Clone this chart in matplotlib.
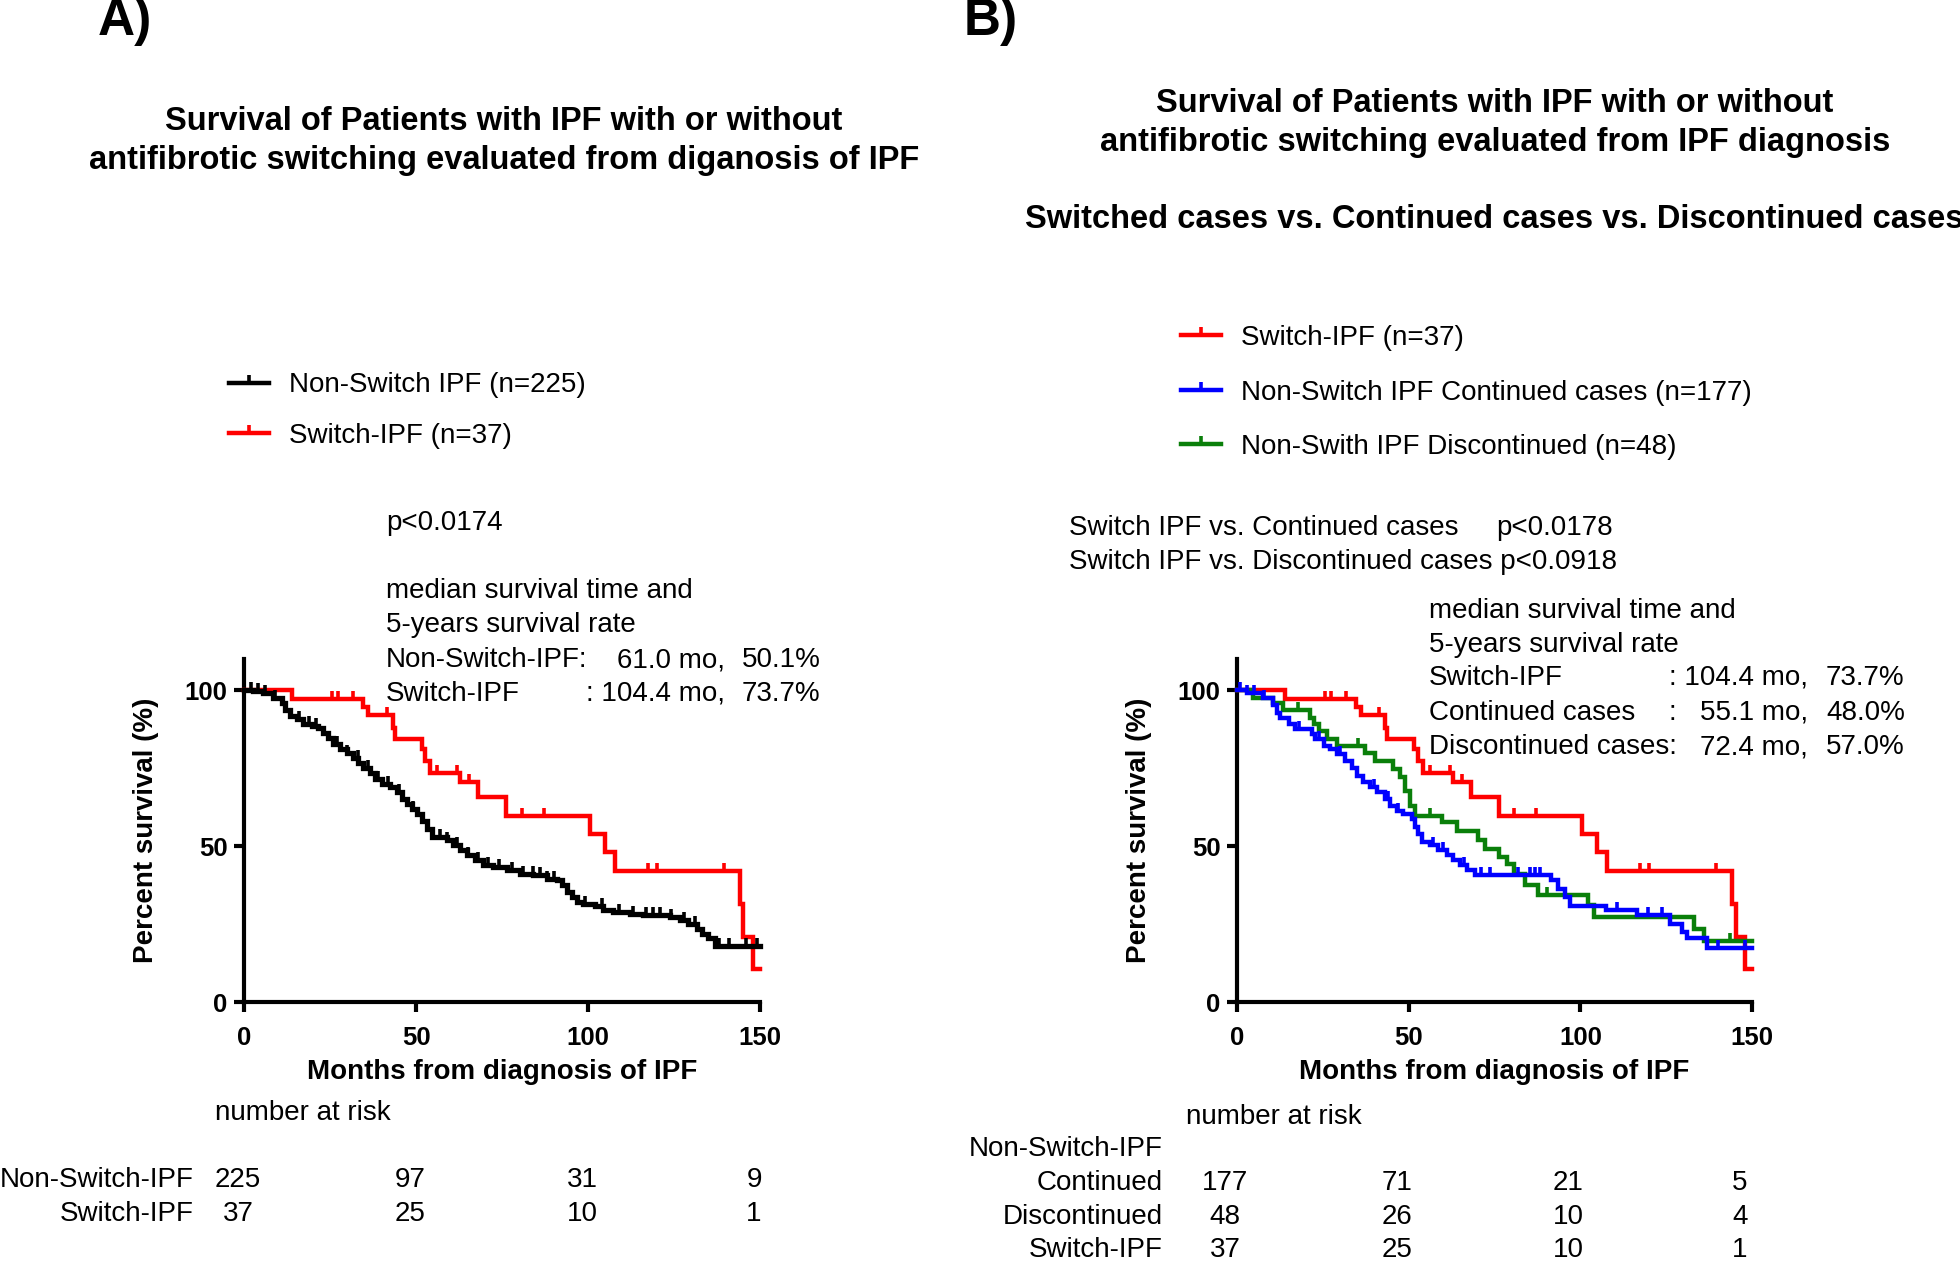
import numpy as np
import matplotlib
matplotlib.use("Agg")
import matplotlib.pyplot as plt
import matplotlib.transforms as mtransforms
from matplotlib.lines import Line2D

plt.rcParams['font.family'] = ['Liberation Sans', 'DejaVu Sans']

# ---- data (months, percent survival) ----
switch_t = [0, 13.9, 34.7, 36.1, 43.2, 43.8, 51.6, 52.6, 54.1, 62.8, 68.1, 76.3,
            100.6, 104.9, 107.8, 144.2, 145.2, 148.1, 150]
switch_s = [100, 97.3, 94.6, 91.9, 88.0, 84.2, 81.0, 77.3, 73.6, 70.4, 65.6, 59.8,
            53.9, 48.0, 42.0, 31.5, 21.0, 10.5, 10.5]
switch_cens = [25.5, 27.4, 31.8, 41.5, 56.1, 61.9, 65.4, 80.7, 87.2, 117.5, 120.0, 139.4]

nonswitch_t = [0, 2.7, 5.6, 8.5, 11.0, 11.9, 13.4, 15.3, 17.2, 19.7, 21.6, 23.1, 24.5,
               26.0, 27.9, 29.9, 31.8, 33.2, 34.7, 36.6, 38.1, 40.0, 42.4, 44.4, 45.8,
               47.3, 48.8, 50.2, 51.7, 53.1, 54.6, 58.9, 60.8, 62.8, 64.7, 67.2, 69.6,
               72.5, 76.4, 80.2, 84.1, 88.0, 90.9, 92.4, 93.8, 95.3, 96.7, 98.6, 102.0,
               104.5, 107.4, 112.2, 116.1, 123.8, 126.7, 129.2, 131.6, 133.0, 135.0,
               136.9, 150]
nonswitch_s = [100, 99.6, 99.1, 97.5, 95.9, 93.8, 91.7, 90.6, 89.2, 88.5, 87.9, 86.4, 84.8,
               82.6, 81.1, 80.0, 78.4, 76.8, 75.2, 73.6, 71.5, 69.9, 68.8, 67.2, 65.1,
               63.5, 61.9, 60.3, 58.1, 55.5, 52.8, 51.8, 50.2, 48.6, 47.0, 45.4, 43.8,
               43.2, 42.2, 40.9, 40.6, 39.5, 39.0, 37.4, 35.2, 33.6, 32.0, 31.5, 30.7,
               29.6, 28.9, 28.3, 27.8, 27.3, 26.2, 25.1, 23.5, 21.9, 20.4,
               17.9, 17.9]
nonswitch_cens = [2, 4, 6, 9, 16, 19, 21, 27, 30, 33, 36, 39, 42, 45, 49, 55, 57, 59, 62,
                  65, 68, 71, 74, 78, 81, 84, 86, 88, 90, 99, 104, 109, 113, 117, 119,
                  121, 124, 128, 131, 138, 141, 146, 149]

cont_t = [0, 3.0, 7.6, 10.6, 11.6, 12.5, 15.0, 16.9, 21.8, 22.7, 25.2, 27.1, 29.0, 31.5,
          33.4, 34.9, 36.8, 38.7, 40.7, 43.1, 44.5, 46.5, 48.4, 50.9, 51.8, 52.8, 53.8,
          56.2, 58.6, 61.1, 63.0, 65.0, 66.9, 69.3, 91.6, 93.6, 95.5, 97.0, 107.6, 116.4,
          126.1, 129.5, 131.0, 136.8, 150]
cont_s = [100, 99.0, 97.5, 95.4, 92.8, 91.2, 89.0, 87.4, 85.8, 84.2, 82.1, 81.0, 79.5, 77.3,
          75.2, 72.5, 70.4, 68.8, 67.2, 65.1, 62.9, 61.3, 60.3, 58.7, 56.0, 53.9, 51.2,
          50.2, 48.6, 47.0, 45.4, 43.8, 42.2, 40.6, 39.0, 36.3, 33.6, 30.7, 29.4, 27.8,
          25.1, 22.5, 20.4, 17.4, 17.4]
cont_cens = [1, 3, 5, 8, 15, 18, 24, 30, 40, 44, 47, 57, 60, 66, 71, 73.7, 81.9, 85.3,
             86.8, 88.2, 110.6, 119.8, 123.7, 140, 148]

disc_t = [0, 4.7, 10.6, 13.5, 21.3, 22.5, 24.0, 26.1, 29.0, 37.3, 40.2, 45.5, 47.5, 48.9,
          50.4, 51.8, 59.6, 64.0, 70.3, 72.2, 76.2, 78.6, 80.6, 83.9, 87.8, 102.2, 103.9,
          133.0, 135.9, 150]
disc_s = [100, 97.5, 95.9, 93.5, 91.2, 89.2, 86.9, 84.2, 82.1, 80.0, 77.3, 74.7, 72.0, 67.7,
          62.9, 59.7, 57.6, 55.0, 52.0, 49.1, 46.4, 44.3, 41.1, 37.4, 34.2, 31.0, 27.3,
          23.5, 19.6, 19.6]
disc_cens = [17.9, 35.3, 56.2, 90.2, 143.7]

risk_months = [0, 50, 100, 150]
risk_a_labels = ['Non-Switch-IPF', 'Switch-IPF']
risk_a = [[225, 97, 31, 9], [37, 25, 10, 1]]
risk_b_labels = ['Continued', 'Discontinued', 'Switch-IPF']
risk_b = [[177, 71, 21, 5], [48, 26, 10, 4], [37, 25, 10, 1]]

RED, BLUE, GREEN, BLACK = '#ff0000', '#0000ff', '#0a7f0a', '#000000'

W, H = 1960, 1266
fig = plt.figure(figsize=(W / 100, H / 100), dpi=100)


def fx(x):
    return x / W


def fy(y):
    return 1 - y / H


def ft(y):
    # text rows sit a touch lower than their measured centres
    return 1 - (y + 3) / H


def km(ax, t, s, cens, color, lw=3.2):
    ax.plot(t, s, drawstyle='steps-post', color=color, lw=lw, clip_on=False,
            solid_joinstyle='miter', zorder=3)
    t = np.asarray(t)
    s = np.asarray(s)
    idx = np.searchsorted(t, cens, side='right') - 1
    ax.plot(cens, s[idx], linestyle='none', marker=2, ms=6, mew=2.6,
            color=color, clip_on=False, zorder=3)


def style_axes(ax):
    ax.set_xlim(0, 150)
    ax.set_ylim(0, 110)
    ax.set_xticks([0, 50, 100, 150])
    ax.set_yticks([0, 50, 100])
    for side in ['top', 'right']:
        ax.spines[side].set_visible(False)
    for side in ['left', 'bottom']:
        ax.spines[side].set_linewidth(3)
    ax.tick_params(width=3, length=7, labelsize=18.5)
    ax.tick_params(axis='x', pad=10)
    ax.tick_params(axis='y', pad=5)
    for lab in ax.get_xticklabels() + ax.get_yticklabels():
        lab.set_fontweight('bold')
    ax.set_xlabel('Months from diagnosis of IPF', fontsize=20, fontweight='bold', labelpad=6.5)
    ax.set_ylabel('Percent survival (%)', fontsize=20, fontweight='bold', labelpad=18)


axA = fig.add_axes([244 / W, 1 - 1002 / H, 516 / W, 343 / H])
axB = fig.add_axes([1237 / W, 1 - 1002 / H, 515 / W, 343 / H])

km(axA, switch_t, switch_s, switch_cens, RED)
km(axA, nonswitch_t, nonswitch_s, nonswitch_cens, BLACK, lw=3.8)
style_axes(axA)

km(axB, switch_t, switch_s, switch_cens, RED)
km(axB, disc_t, disc_s, disc_cens, GREEN)
km(axB, cont_t, cont_s, cont_cens, BLUE)
style_axes(axB)

# panel letters and titles
fig.text(fx(125), fy(22), 'A)', fontsize=37, fontweight='bold', ha='center', va='center')
fig.text(fx(991), fy(22), 'B)', fontsize=37, fontweight='bold', ha='center', va='center')
tfs = 23.5
fig.text(fx(504), ft(119), 'Survival of Patients with IPF with or without',
         fontsize=tfs, fontweight='bold', ha='center', va='center')
fig.text(fx(504), ft(157), 'antifibrotic switching evaluated from diganosis of IPF',
         fontsize=tfs, fontweight='bold', ha='center', va='center')
fig.text(fx(1495), ft(100), 'Survival of Patients with IPF with or without',
         fontsize=tfs, fontweight='bold', ha='center', va='center')
fig.text(fx(1495), ft(139), 'antifibrotic switching evaluated from IPF diagnosis',
         fontsize=tfs, fontweight='bold', ha='center', va='center')
fig.text(fx(1494), ft(216), 'Switched cases vs. Continued cases vs. Discontinued cases',
         fontsize=tfs, fontweight='bold', ha='center', va='center')

# legends
def handle(color):
    return Line2D([], [], color=color, lw=3.2, marker=2, ms=6, mew=2.6)


legA = fig.legend([handle(BLACK), handle(RED)],
                  ['Non-Switch IPF (n=225)', 'Switch-IPF (n=37)'],
                  loc='center left', bbox_to_anchor=(fx(229), fy(410.5)),
                  frameon=False, fontsize=20, handlelength=1.45, handletextpad=0.7,
                  labelspacing=0.87, borderpad=0, borderaxespad=0, numpoints=1)
legB = fig.legend([handle(RED), handle(BLUE), handle(GREEN)],
                  ['Switch-IPF (n=37)', 'Non-Switch IPF Continued cases (n=177)',
                   'Non-Swith IPF Discontinued (n=48)'],
                  loc='center left', bbox_to_anchor=(fx(1181), fy(392.5)),
                  frameon=False, fontsize=20, handlelength=1.45, handletextpad=0.7,
                  labelspacing=1.03, borderpad=0, borderaxespad=0, numpoints=1)

# panel A annotations
fs = 20
fig.text(fx(386), ft(520), 'p<0.0174', fontsize=fs, va='center')
fig.text(fx(386), ft(588), 'median survival time and', fontsize=fs, va='center')
fig.text(fx(386), ft(622), '5-years survival rate', fontsize=fs, va='center')
rowsA = [('Non-Switch-IPF:', '61.0 mo,', '50.1%'), ('Switch-IPF', ': 104.4 mo,', '73.7%')]
for i, (lab, med, pct) in enumerate(rowsA):
    y = ft(657 + 34 * i)
    fig.text(fx(386), y, lab, fontsize=fs, va='center')
    fig.text(fx(725), y, med, fontsize=fs, va='center', ha='right')
    fig.text(fx(742), y, pct, fontsize=fs, va='center')

# panel B annotations
fig.text(fx(1069), ft(525), 'Switch IPF vs. Continued cases', fontsize=fs, va='center')
fig.text(fx(1496), ft(525), 'p<0.0178', fontsize=fs, va='center')
fig.text(fx(1069), ft(559), 'Switch IPF vs. Discontinued cases p<0.0918', fontsize=fs,
         va='center')
fig.text(fx(1429), ft(608), 'median survival time and', fontsize=fs, va='center')
fig.text(fx(1429), ft(642), '5-years survival rate', fontsize=fs, va='center')
rowsB = [('Switch-IPF', ': 104.4 mo,', '73.7%'), ('Continued cases', '55.1 mo,', '48.0%'),
         ('Discontinued cases:', '72.4 mo,', '57.0%')]
for i, (lab, med, pct) in enumerate(rowsB):
    y = ft(675 + 34.5 * i)
    fig.text(fx(1429), y, lab, fontsize=fs, va='center')
    fig.text(fx(1808), y, med, fontsize=fs, va='center', ha='right')
    fig.text(fx(1826), y, pct, fontsize=fs, va='center')
fig.text(fx(1668), ft(709.5), ':', fontsize=fs, va='center')

# number at risk tables
fig.text(fx(215), ft(1110), 'number at risk', fontsize=fs, va='center')
transA = mtransforms.blended_transform_factory(axA.transData, fig.transFigure) + \
    mtransforms.ScaledTranslation(-6 / 100, 0, fig.dpi_scale_trans)
for i, lab in enumerate(risk_a_labels):
    y = ft(1177 + 34 * i)
    fig.text(fx(194), y, lab, fontsize=fs, va='center', ha='right')
    for m, n in zip(risk_months, risk_a[i]):
        fig.text(m, y, str(n), fontsize=fs, va='center', ha='center', transform=transA)

fig.text(fx(1186), fy(1117), 'number at risk', fontsize=fs, va='center')
fig.text(fx(1163), fy(1149), 'Non-Switch-IPF', fontsize=fs, va='center', ha='right')
transB = mtransforms.blended_transform_factory(axB.transData, fig.transFigure) + \
    mtransforms.ScaledTranslation(-12 / 100, 0, fig.dpi_scale_trans)
for i, lab in enumerate(risk_b_labels):
    y = fy(1183 + 33.5 * i)
    fig.text(fx(1163), y, lab, fontsize=fs, va='center', ha='right')
    for m, n in zip(risk_months, risk_b[i]):
        fig.text(m, y, str(n), fontsize=fs, va='center', ha='center', transform=transB)

fig.savefig('out.png', dpi=100)
